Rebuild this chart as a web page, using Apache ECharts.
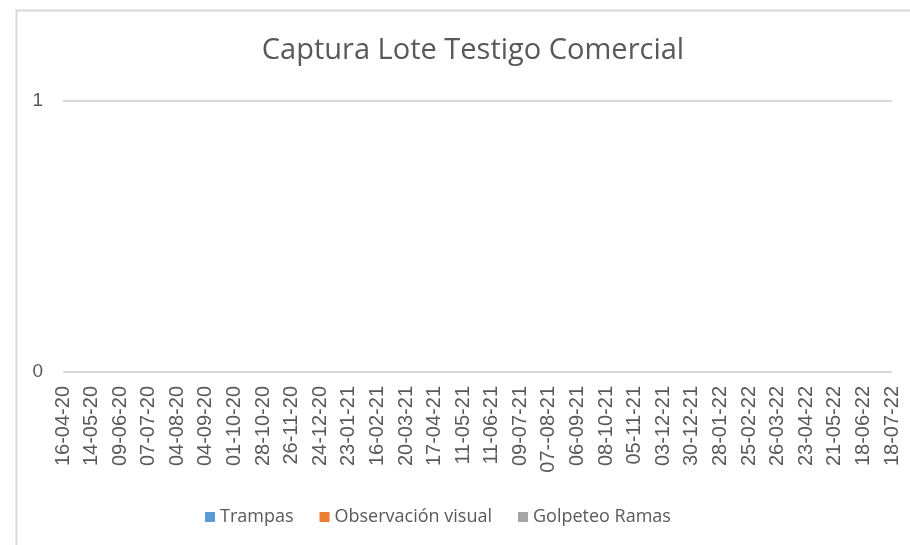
<!DOCTYPE html>
<html>
<head>
<meta charset="utf-8">
<script src="https://cdn.jsdelivr.net/npm/echarts@6/dist/echarts.min.js"></script>
<style>
  html, body { margin: 0; padding: 0; background: #fff; }
  #chart { width: 910px; height: 545px; }
</style>
</head>
<body>
<div id="chart"></div>
<script>
// fechas del eje x
var fechas = ['16-04-20','14-05-20','09-06-20','07-07-20','04-08-20','04-09-20','01-10-20','28-10-20',
  '26-11-20','24-12-20','23-01-21','16-02-21','20-03-21','17-04-21','11-05-21','11-06-21','09-07-21',
  '07--08-21','06-09-21','08-10-21','05-11-21','03-12-21','30-12-21','28-01-22','25-02-22','26-03-22',
  '23-04-22','21-05-22','18-06-22','18-07-22'];
// series sin datos registrados
var trampas = [];
var observacion = [];
var golpeteo = [];
var nombres = ['Trampas', 'Observación visual', 'Golpeteo Ramas'];
var colores = ['#5b9bd5', '#ed7d31', '#a5a5a5'];

var chart = echarts.init(document.getElementById('chart'));
chart.setOption({
  animation: false,
  color: colores,
  title: {
    text: 'Captura Lote Testigo Comercial',
    left: 468, top: 31, textAlign: 'center',
    textStyle: { color: '#595959', fontSize: 29, fontWeight: 'normal', fontFamily: 'Open Sans' }
  },
  graphic: [{
    type: 'rect', left: 14, top: 8, silent: true,
    shape: { width: 910, height: 545 },
    style: { fill: 'none', stroke: '#d9d9d9', lineWidth: 2 }
  }],
  legend: {
    data: nombres, left: 200, top: 503,
    icon: 'rect', itemWidth: 10, itemHeight: 10, itemGap: 26,
    textStyle: { color: '#595959', fontSize: 18, fontFamily: 'Open Sans' }
  },
  grid: { left: 63, right: 18, top: 101, bottom: 173 },
  xAxis: {
    type: 'category', data: fechas, boundaryGap: false,
    axisLine: { show: false }, axisTick: { show: false },
    axisLabel: { rotate: 90, interval: 0, color: '#595959', fontSize: 20, fontFamily: 'Liberation Sans', margin: 14 }
  },
  yAxis: {
    type: 'value', min: 0, max: 1, interval: 1,
    axisLine: { show: false }, axisTick: { show: false },
    axisLabel: { color: '#595959', fontSize: 19, fontFamily: 'Liberation Sans', margin: 20 },
    splitLine: { lineStyle: { color: '#d9d9d9', width: 2 } }
  },
  series: [
    { name: nombres[0], type: 'line', data: trampas, showSymbol: false },
    { name: nombres[1], type: 'line', data: observacion, showSymbol: false },
    { name: nombres[2], type: 'line', data: golpeteo, showSymbol: false }
  ]
});
</script>
</body>
</html>
